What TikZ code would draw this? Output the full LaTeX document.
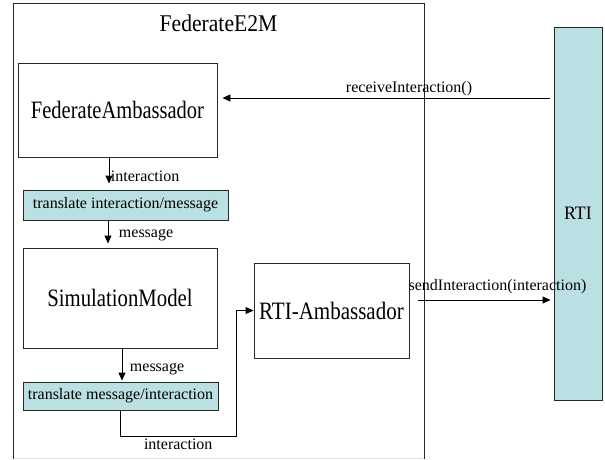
\documentclass[tikz,border=0pt]{standalone}
\usepackage{fontspec}
\setmainfont{Liberation Serif}
\usepackage{graphicx}
\usetikzlibrary{arrows.meta,calc}
\definecolor{tealfill}{RGB}{187,224,227}
\definecolor{edge}{RGB}{40,40,40}
% horizontally condensed text
\newcommand{\hsqz}[2]{\scalebox{#1}[1]{#2}}

\begin{document}
\begin{tikzpicture}[x=1pt,y=-1pt,
  box/.style={draw=edge, line width=0.9pt, rectangle, inner sep=0pt,
              font=\fontsize{25}{30}\selectfont},
  tbox/.style={box, fill=tealfill, font=\fontsize{16}{19}\selectfont},
  lbl/.style={font=\fontsize{16}{19}\selectfont, inner sep=1.5pt},
  arr/.style={draw=black, line width=0.9pt, -{Triangle[length=8pt,width=7pt]}},
  frame/.style={draw=edge, line width=0.9pt}]

\useasboundingbox (0,0) rectangle (605,459);

% enclosing federate frame (runs off the bottom edge)
\draw[frame] (13,459) -- (13,3) -- (424,3) -- (424,459);
\draw[black!12, line width=0.8pt] (14,458) -- (423,458);
\node[font=\fontsize{24}{28}\selectfont] (title) at (218.5,23) {\hsqz{0.9}{FederateE2M}};

% components
\node[box, minimum width=199pt, minimum height=94pt] (fa) at (117.5,110)
  {\hsqz{0.82}{FederateAmbassador}};
\node[tbox, minimum width=205pt, minimum height=30pt] (t1) at (125.5,205)
  {translate interaction/message};
\node[box, minimum width=194pt, minimum height=100pt] (sm) at (120,298)
  {\hsqz{0.83}{SimulationModel}};
\node[tbox, minimum width=195pt, minimum height=28pt] (t2) at (120.5,396)
  {translate message/interaction};
\node[box, minimum width=155pt, minimum height=95pt] (ra) at (331.5,310.5)
  {\hsqz{0.84}{RTI-Ambassador}};
\node[tbox, minimum width=48pt, minimum height=373pt,
      font=\fontsize{19}{22}\selectfont] (rti) at (578,213.5)
  {\hsqz{0.94}{RTI}};

% helper coordinates for connector heights and columns
\coordinate (yrecv) at (0,98);
\coordinate (ysend) at (0,300);
\coordinate (ybend) at (0,436);
\coordinate (xbend) at (236,0);

% RTI -> FederateAmbassador
\draw[arr, shorten <=4pt, shorten >=5pt] (rti.west |- yrecv) -- (fa.east |- yrecv)
  node[lbl, above, pos=0.43] {receiveInteraction()};

% FederateAmbassador -> translate
\draw[arr, shorten >=6pt] ([xshift=-8.5pt]fa.south) -- ([xshift=-8.5pt]fa.south |- t1.north)
  node[lbl, right, pos=0.6] {interaction};

% translate -> SimulationModel
\draw[arr, shorten >=4pt] ([xshift=-17.5pt]t1.south) -- ([xshift=-17.5pt]t1.south |- sm.north)
  node[lbl, right, pos=0.55, xshift=9pt] {message};

% SimulationModel -> translate
\draw[arr, shorten >=1pt] ([xshift=2pt]sm.south) -- ([xshift=2pt]sm.south |- t2.north)
  node[lbl, right, pos=0.62, xshift=6pt] {message};

% translate -> RTI-Ambassador
\draw[arr] (t2.south) -- (t2.south |- ybend) -- (xbend |- ybend)
  node[lbl, below, pos=0.5, yshift=-1pt] {interaction}
  -- (xbend |- ra.west) -- (ra.west);

% RTI-Ambassador -> RTI
\draw[arr, shorten <=9pt, shorten >=3pt] (ra.east |- ysend) -- (rti.west |- ysend)
  node[lbl, above, pos=0.5, yshift=4pt, xshift=16pt] {sendInteraction(interaction)};

\end{tikzpicture}
\end{document}
